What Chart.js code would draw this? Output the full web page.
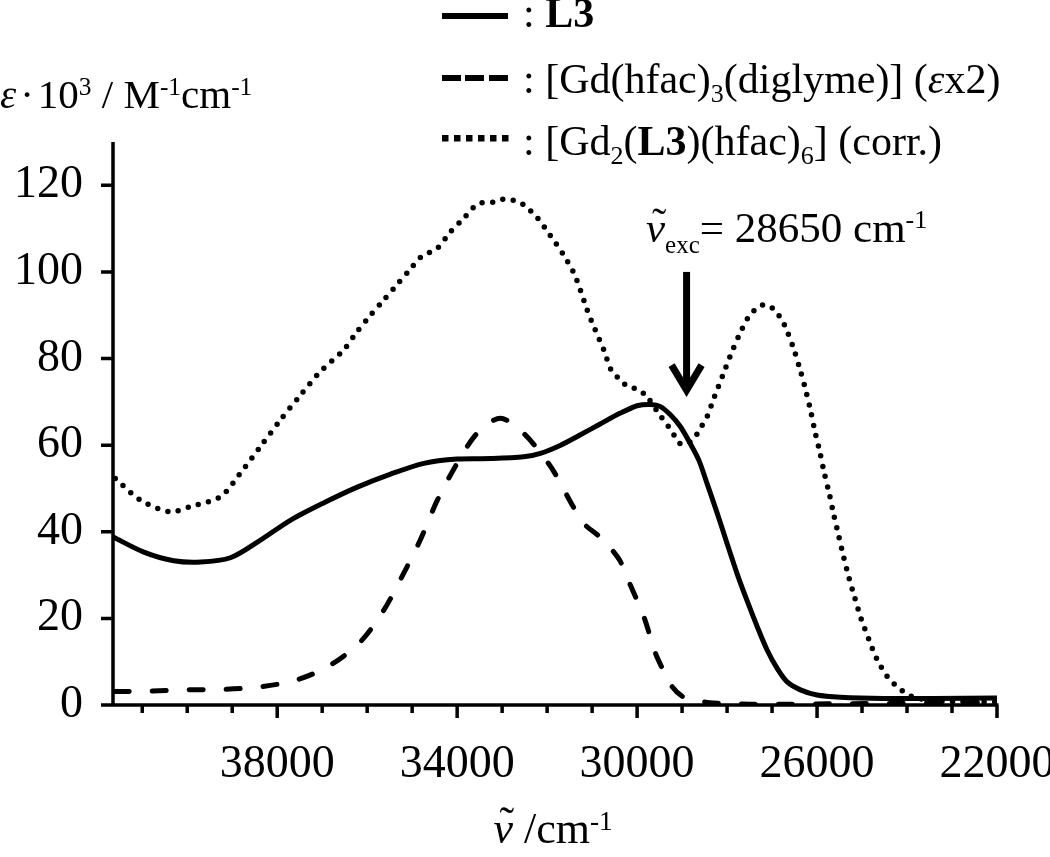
<!DOCTYPE html>
<html>
<head>
<meta charset="utf-8">
<script src="https://cdn.jsdelivr.net/npm/chart.js@4.4.1/dist/chart.umd.min.js"></script>
<style>
  html, body { margin: 0; padding: 0; background: #fff; }
  #wrap { position: relative; width: 1050px; height: 857px; overflow: hidden; }
  .txt { position: absolute; font-family: "Liberation Serif", "Times New Roman", serif; font-size: 42px;
         line-height: 42px; white-space: nowrap; color: #000; }
  .txt sub, .txt sup { font-size: 0.62em; line-height: 0; }
  .txt sup { vertical-align: 13px; }
  .txt sub { vertical-align: -9px; }
  .nu { position: relative; font-style: italic; }
  .nu .tl { position: absolute; left: 0.14em; top: -0.06em; font-style: normal; }
</style>
</head>
<body>
<div id="wrap">
  <canvas id="chart" width="1050" height="857"></canvas>
  <div class="txt" style="left:0px;top:73px;font-size:41px"><i>ε</i><span style="margin:0 4px">·</span>10<sup>3</sup> / M<sup>-1</sup>cm<sup>-1</sup></div>
  <div class="txt" style="left:523px;top:-8px">: <b>L3</b></div>
  <div class="txt" style="left:523px;top:58px">: [Gd(hfac)<sub>3</sub>(diglyme)] (<i>ε</i>x2)</div>
  <div class="txt" style="left:523px;top:120px">: [Gd<sub>2</sub>(<b>L3</b>)(hfac)<sub>6</sub>] (corr.)</div>
  <div class="txt" style="left:646px;top:206px;font-size:43px;line-height:43px"><span class="nu">ν<span class="tl">˜</span></span><sub style="font-size:25px;vertical-align:-11px">exc</sub>= 28650 cm<sup style="font-size:26px;vertical-align:14px">-1</sup></div>
  <div class="txt" style="left:553px;top:807px;font-size:44px;line-height:44px;transform:translateX(-50%)"><span class="nu">ν<span class="tl">˜</span></span> /cm<sup>-1</sup></div>
</div>
<script>
// wavenumber (cm-1) and epsilon*10^3 (M-1 cm-1)
const xL3 = [41650, 40964, 40300, 39700, 39040, 38440, 37700, 36960, 36220, 35480, 34740, 34000, 33260, 32520,
  32150, 31700, 31260, 30820, 30370, 30000, 29700, 29480, 29260, 29040, 28820, 28630, 28440, 28220, 28000,
  27780, 27560, 27330, 27110, 26890, 26670, 26370, 26000, 25480, 24520, 23420, 22000];
const yL3 = [38.8, 35.3, 33.3, 33.0, 34.0, 37.6, 42.7, 46.7, 50.3, 53.3, 55.8, 56.8, 56.9, 57.3,
  58.1, 60.0, 62.4, 64.9, 67.4, 69.1, 69.4, 68.9, 67.0, 64.3, 60.4, 56.6, 51.0, 44.3, 37.3,
  30.4, 24.2, 18.1, 12.7, 8.5, 5.4, 3.5, 2.3, 1.8, 1.5, 1.5, 1.6];

const xGd = [41600, 40820, 40000, 39190, 38370, 37560, 36820, 36150, 35630, 35190, 34820, 34440, 34000, 33560,
  33040, 32520, 32080, 31850, 31630, 31190, 30850, 30590, 30370, 30150, 29850, 29590, 29440, 29220, 28960,
  28440, 27480, 25260, 22000];
const yGd = [3.1, 3.2, 3.5, 3.6, 4.2, 5.8, 9.2, 14.6, 21.9, 30.4, 38.1, 47.3, 55.8, 62.7,
  66.2, 62.7, 57.3, 53.9, 49.7, 42.0, 39.0, 36.2, 33.1, 27.7, 20.4, 11.9, 8.5, 4.2, 1.8,
  0.6, 0.2, 0.3, 0.6];

const xGd2 = [41600, 41040, 40390, 39930, 39260, 38820, 38370, 37930, 37480, 37040, 36520, 36240, 35950, 35650,
  35360, 35060, 34800, 34440, 34160, 33850, 33540, 33190, 32960, 32730, 32520, 32210, 31930, 31650, 31410,
  31260, 31110, 30930, 30740, 30580, 30430, 30280, 30110, 29960, 29810, 29720, 29470, 29330, 29200, 29080,
  28950, 28830, 28680, 28560, 28440, 28280, 28100, 27930, 27740, 27520, 27360, 27160, 26960, 26820, 26700,
  26530, 26390, 26260, 26150, 26050, 25940, 25840, 25730, 25630, 25520, 25410, 25290, 25160, 25020, 24850,
  24670, 24430, 24260, 24080, 23870, 23480, 22820, 22000];
const yGd2 = [52.3, 47.3, 44.6, 45.8, 48.1, 53.5, 59.7, 65.8, 71.6, 77.0, 82.0, 86.0, 89.7, 93.3,
  96.8, 100.4, 103.5, 105.5, 109.1, 112.4, 115.7, 116.1, 116.8, 116.5, 115.5, 112.4, 108.4, 104.2, 99.8,
  95.8, 91.2, 86.6, 82.0, 77.4, 75.6, 74.1, 73.5, 72.2, 71.8, 70.4, 66.6, 64.7, 62.7, 60.6,
  60.2, 60.7, 62.4, 64.5, 66.7, 71.2, 76.0, 80.6, 85.2, 89.7, 91.4, 92.5, 91.4, 89.5, 87.2,
  82.6, 77.9, 73.0, 68.3, 63.3, 58.5, 53.6, 48.9, 44.0, 39.1, 34.2, 29.4, 24.7, 19.9, 15.2,
  10.6, 6.4, 4.6, 3.1, 1.9, 1.0, 0.8, 0.7];

const xTicks = [22000, 23000, 24000, 25000, 26000, 27000, 28000, 29000, 30000, 31000,
  32000, 33000, 34000, 35000, 36000, 37000, 38000, 39000, 40000, 41000];
const xTickLabels = [38000, 34000, 30000, 26000, 22000];
const yTickLabels = [0, 20, 40, 60, 80, 100, 120];

// excitation arrow
const arrowWavenumber = 28900;
const arrowTop = 100;
const arrowTip = 71.1;

const FONT = { family: '"Liberation Serif", "Times New Roman", serif', size: 46 };

const pts = (xs, ys) => xs.map((v, i) => ({ x: v, y: ys[i] }));

const axesPlugin = {
  id: 'axesPlugin',
  afterDatasetsDraw(chart) {
    const { ctx, chartArea: a, scales: { x, y } } = chart;
    ctx.save();
    ctx.strokeStyle = '#000';
    ctx.fillStyle = '#000';
    ctx.lineWidth = 3.5;
    ctx.lineCap = 'butt';
    ctx.beginPath();
    ctx.moveTo(a.left - 12, a.bottom);
    ctx.lineTo(a.right + 1.5, a.bottom);
    ctx.moveTo(a.left, a.top);
    ctx.lineTo(a.left, a.bottom + 1.5);
    y.ticks.forEach(t => {
      const py = y.getPixelForValue(t.value);
      ctx.moveTo(a.left - 12, py);
      ctx.lineTo(a.left, py);
    });
    x.ticks.forEach(t => {
      const px = x.getPixelForValue(t.value);
      const len = xTickLabels.includes(t.value) ? 13 : 8;
      ctx.moveTo(px, a.bottom);
      ctx.lineTo(px, a.bottom + len);
    });
    ctx.stroke();

    // arrow
    const ax = x.getPixelForValue(arrowWavenumber);
    const y0 = y.getPixelForValue(arrowTop);
    const y1 = y.getPixelForValue(arrowTip);
    ctx.lineWidth = 7;
    ctx.beginPath();
    ctx.moveTo(ax, y0);
    ctx.lineTo(ax, y1 - 8);
    ctx.stroke();
    ctx.lineJoin = 'miter';
    ctx.beginPath();
    ctx.moveTo(ax - 15, y1 - 32);
    ctx.lineTo(ax, y1 - 7);
    ctx.lineTo(ax + 15, y1 - 32);
    ctx.stroke();

    // legend samples
    ctx.lineWidth = 6;
    ctx.beginPath();
    ctx.moveTo(442, 16);
    ctx.lineTo(508, 16);
    ctx.stroke();
    ctx.beginPath();
    [[442, 461], [465, 484], [489, 508]].forEach(([s, e]) => { ctx.moveTo(s, 78); ctx.lineTo(e, 78); });
    ctx.stroke();
    for (let i = 0; i < 6; i++) ctx.fillRect(442 + i * 12, 135, 6.5, 6.5);
    ctx.restore();
  }
};

new Chart(document.getElementById('chart').getContext('2d'), {
  type: 'line',
  data: {
    datasets: [
      {
        label: 'L3',
        data: pts(xL3, yL3),
        borderColor: '#000',
        borderWidth: 5,
        pointRadius: 0,
        tension: 0.3
      },
      {
        label: '[Gd(hfac)3(diglyme)] (εx2)',
        data: pts(xGd, yGd),
        borderColor: '#000',
        borderWidth: 5,
        borderDash: [14, 23],
        borderCapStyle: 'round',
        pointRadius: 0,
        tension: 0.3
      },
      {
        label: '[Gd2(L3)(hfac)6] (corr.)',
        data: pts(xGd2, yGd2),
        borderColor: '#000',
        borderWidth: 5.5,
        borderDash: [0, 10.5],
        borderCapStyle: 'round',
        pointRadius: 0,
        tension: 0.3
      }
    ]
  },
  options: {
    responsive: false,
    animation: false,
    devicePixelRatio: 1,
    layout: { padding: { top: 142, right: 53, left: 0, bottom: 0 } },
    plugins: { legend: { display: false }, tooltip: { enabled: false } },
    scales: {
      x: {
        type: 'linear',
        reverse: true,
        min: 22000,
        max: 41650,
        grid: { display: false, drawTicks: false },
        border: { display: false },
        afterBuildTicks: s => { s.ticks = xTicks.map(v => ({ value: v })); },
        afterFit: s => { s.height = 152; s.paddingLeft = 0; s.paddingRight = 0; },
        ticks: {
          autoSkip: false,
          maxRotation: 0,
          padding: 32,
          font: FONT,
          color: '#000',
          callback: v => xTickLabels.includes(v) ? String(v) : ''
        }
      },
      y: {
        min: 0,
        max: 130,
        grid: { display: false, drawTicks: false },
        border: { display: false },
        afterFit: s => { s.width = 113; s.paddingTop = 0; s.paddingBottom = 0; },
        ticks: {
          stepSize: 10,
          padding: 30,
          font: FONT,
          color: '#000',
          callback: v => yTickLabels.includes(v) ? String(v) : ''
        }
      }
    }
  },
  plugins: [axesPlugin]
});
</script>
</body>
</html>
